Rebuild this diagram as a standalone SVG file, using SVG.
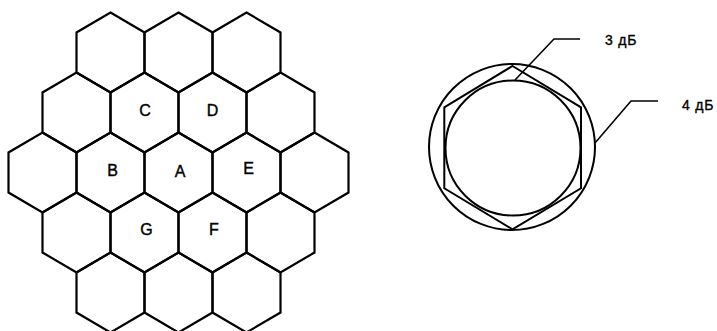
<svg xmlns="http://www.w3.org/2000/svg" xmlns:xlink="http://www.w3.org/1999/xlink" width="717" height="331" viewBox="0 0 717 331">
<style>
.cell{fill:none;stroke:#000;stroke-width:2.2;stroke-linejoin:miter}
.lbl{font-family:"Liberation Sans",Arial,sans-serif;font-size:16px;fill:#000;stroke:#000;stroke-width:0.4;text-anchor:middle}
.db{font-family:"Liberation Sans",Arial,sans-serif;font-size:14px;fill:#000;stroke:#000;stroke-width:0.35;letter-spacing:0.8px}
.ln{fill:none;stroke:#000;stroke-width:2}
.ld{fill:none;stroke:#000;stroke-width:1.6}
</style>
<defs>
<polygon id="hex" points="0,-40 34,-20 34,20 0,40 -34,20 -34,-20"/>
</defs>
<rect width="717" height="331" fill="#fff"/>
<g id="grid">
<g id="r1c1"><use xlink:href="#hex" class="cell" x="110.5" y="52.5"/></g>
<g id="r1c2"><use xlink:href="#hex" class="cell" x="178.5" y="52.5"/></g>
<g id="r1c3"><use xlink:href="#hex" class="cell" x="246.5" y="52.5"/></g>
<g id="r2c1"><use xlink:href="#hex" class="cell" x="76.5" y="112.5"/></g>
<g id="cellC"><use xlink:href="#hex" class="cell" x="144.5" y="112.5"/><text class="lbl" x="145" y="116">C</text></g>
<g id="cellD"><use xlink:href="#hex" class="cell" x="212.5" y="112.5"/><text class="lbl" x="212.5" y="116">D</text></g>
<g id="r2c4"><use xlink:href="#hex" class="cell" x="280.5" y="112.5"/></g>
<g id="r3c1"><use xlink:href="#hex" class="cell" x="42.5" y="172.5"/></g>
<g id="cellB"><use xlink:href="#hex" class="cell" x="110.5" y="172.5"/><text class="lbl" x="112.5" y="176">B</text></g>
<g id="cellA"><use xlink:href="#hex" class="cell" x="178.5" y="172.5"/><text class="lbl" x="180" y="176.5">A</text></g>
<g id="cellE"><use xlink:href="#hex" class="cell" x="246.5" y="172.5"/><text class="lbl" x="248.5" y="173.5">E</text></g>
<g id="r3c5"><use xlink:href="#hex" class="cell" x="314.5" y="172.5"/></g>
<g id="r4c1"><use xlink:href="#hex" class="cell" x="76.5" y="232.5"/></g>
<g id="cellG"><use xlink:href="#hex" class="cell" x="144.5" y="232.5"/><text class="lbl" x="146.5" y="234.5">G</text></g>
<g id="cellF"><use xlink:href="#hex" class="cell" x="212.5" y="232.5"/><text class="lbl" x="214" y="234.5">F</text></g>
<g id="r4c4"><use xlink:href="#hex" class="cell" x="280.5" y="232.5"/></g>
<g id="r5c1"><use xlink:href="#hex" class="cell" x="110.5" y="292.5"/></g>
<g id="r5c2"><use xlink:href="#hex" class="cell" x="178.5" y="292.5"/></g>
<g id="r5c3"><use xlink:href="#hex" class="cell" x="246.5" y="292.5"/></g>
</g>
<g id="coverage">
<circle class="ln" cx="512" cy="147" r="83"/>
<circle class="ln" cx="513" cy="148" r="67.5"/>
<polygon class="ln" points="512.5,66 581,107.3 581,188.3 512.5,229.3 444.3,188.3 444.3,107.3"/>
</g>
<g id="connectors">
<polyline class="ld" points="515,80 554,39 580,39"/>
<polyline class="ld" points="595,143 631,101 658,101"/>
</g>
<g id="labels">
<text class="db" x="605" y="45">3 дБ</text>
<text class="db" x="682" y="110">4 дБ</text>
</g>
</svg>
